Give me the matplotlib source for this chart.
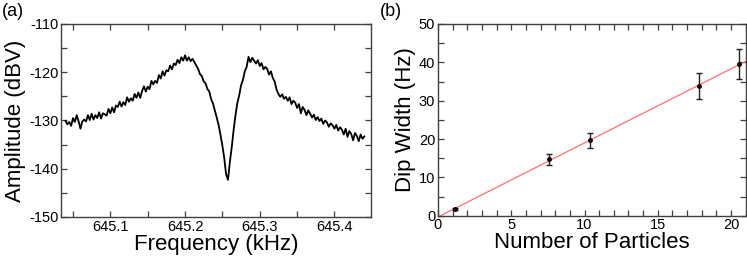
import numpy as np
import matplotlib
matplotlib.use('Agg')
import matplotlib.pyplot as plt
from matplotlib.ticker import MultipleLocator

plt.rcParams['font.family'] = ['Liberation Sans', 'DejaVu Sans']
plt.rcParams['axes.unicode_minus'] = False

# (a) spectrum around the dip (0.0025 kHz steps)
freq_start = 645.04
freq_step = 0.0025
amplitude = [
    -130.1, -130.8, -130.3, -131.1, -129.5, -130.3, -128.9, -130.2, -131.7, -130.2,
    -129.8, -130.2, -128.9, -129.9, -128.6, -129.8, -128.9, -129.5, -128.3, -129.6,
    -128.5, -128.7, -129.0, -127.6, -128.5, -127.3, -128.3, -126.9, -127.2, -126.1,
    -127.1, -126.2, -126.8, -125.2, -126.1, -125.4, -125.9, -124.5, -125.3, -124.2,
    -125.3, -123.9, -122.9, -124.0, -123.0, -123.5, -121.8, -122.5, -121.8, -122.2,
    -120.6, -121.3, -119.8, -120.7, -119.6, -119.8, -118.6, -119.4, -118.2, -118.5,
    -117.4, -118.1, -116.9, -117.6, -116.5, -117.6, -116.9, -117.7, -117.2, -117.9,
    -118.6, -119.3, -120.4, -120.8, -121.9, -122.3, -123.5, -124.0, -125.6, -126.5,
    -128.0, -129.4, -131.0, -133.0, -135.2, -137.8, -141.2, -142.3, -138.6, -135.6,
    -132.0, -129.0, -126.4, -124.8, -122.7, -121.6, -119.8, -118.9, -116.8, -117.9,
    -117.0, -117.6, -118.2, -117.5, -118.7, -118.1, -119.4, -118.9, -119.3, -120.5,
    -119.8, -121.2, -121.9, -123.6, -124.5, -125.1, -124.6, -125.5, -125.1, -125.9,
    -125.2, -126.6, -125.9, -126.3, -127.4, -126.6, -128.5, -127.2, -127.8, -128.9,
    -127.9, -128.6, -129.4, -128.8, -129.9, -129.3, -130.1, -129.6, -130.7, -130.0,
    -130.4, -131.3, -130.6, -131.0, -131.7, -130.9, -132.1, -131.4, -131.9, -132.9,
    -131.7, -133.4, -132.2, -132.8, -134.1, -132.6, -133.2, -134.3, -132.9, -133.8,
    -133.3,
]

# (b) dip width vs number of particles
particles = [1.14, 7.6, 10.39, 17.83, 20.57]
dip_width = [1.7, 14.7, 19.7, 33.8, 39.6]
dip_err = [0.3, 1.5, 2.0, 3.4, 3.9]

frame_col = '#404040'

fig = plt.figure(figsize=(7.47, 2.62), dpi=100)
ax1 = fig.add_axes([0.0817, 0.1718, 0.415, 0.7366])
ax2 = fig.add_axes([0.5863, 0.1767, 0.412, 0.7317])

freq = freq_start + freq_step * np.arange(len(amplitude))
ax1.plot(freq, amplitude, color='black', lw=1.3)
ax1.set_xlim(645.034, 645.449)
ax1.set_ylim(-150, -110)
ax1.xaxis.set_major_locator(MultipleLocator(0.1))
ax1.xaxis.set_minor_locator(MultipleLocator(0.05))
ax1.yaxis.set_major_locator(MultipleLocator(10))
ax1.yaxis.set_minor_locator(MultipleLocator(5))
ax1.set_xlabel('Frequency (kHz)', fontsize=16, labelpad=0)
ax1.set_ylabel('Amplitude (dBV)', fontsize=16, labelpad=2)
fig.text(0.002, 0.99, '(a)', fontsize=13, va='top', ha='left')

ax2.errorbar(particles, dip_width, yerr=dip_err, fmt='o', ms=2.5,
             color='black', mfc='#5a0000', mec='black', ecolor='#202020',
             elinewidth=1, capsize=2, capthick=1, zorder=3)
slope, icept = np.polyfit(particles, dip_width, 1)
xfit = np.array([-icept / slope, 21])
ax2.plot(xfit, slope * xfit + icept, color='#ff7070', lw=0.9, zorder=2)
ax2.set_xlim(0, 21)
ax2.set_ylim(0, 50)
ax2.xaxis.set_major_locator(MultipleLocator(5))
ax2.xaxis.set_minor_locator(MultipleLocator(1))
ax2.yaxis.set_major_locator(MultipleLocator(10))
ax2.yaxis.set_minor_locator(MultipleLocator(5))
ax2.set_xlabel('Number of Particles', fontsize=16, labelpad=0)
ax2.set_ylabel('Dip Width (Hz)', fontsize=16, labelpad=2)
fig.text(0.508, 0.99, '(b)', fontsize=13, va='top', ha='left')

for ax in (ax1, ax2):
    for sp in ax.spines.values():
        sp.set_color(frame_col)
        sp.set_linewidth(1.0)
    ax.tick_params(which='both', direction='in', top=True, right=True,
                   length=4, width=0.9, color=frame_col)
    ax.tick_params(which='major', labelsize=10.5, pad=2)

fig.savefig('out.png', dpi=100)
